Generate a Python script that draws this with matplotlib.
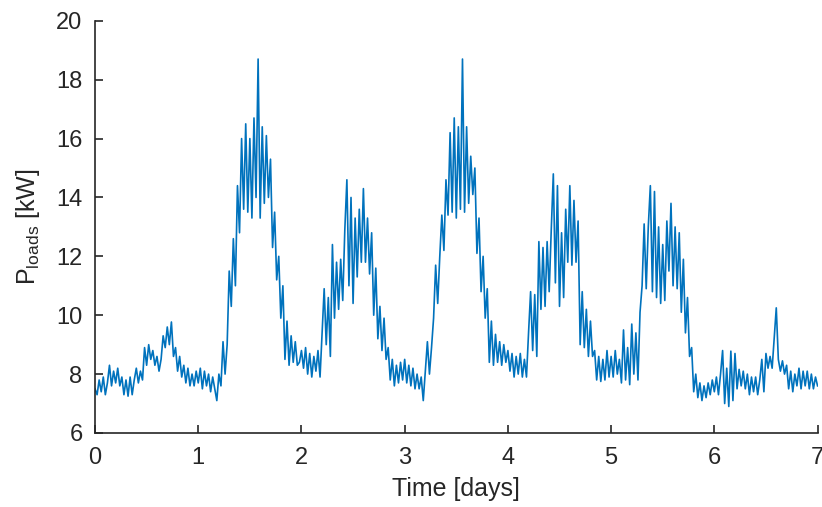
import numpy as np
import matplotlib
matplotlib.use("Agg")
import matplotlib.pyplot as plt

plt.rcParams['font.family'] = ['Liberation Sans', 'DejaVu Sans']

day0 = [7.5, 7.3, 7.8, 7.4, 7.9, 7.3, 7.7, 8.3, 7.6, 8.1,
        7.7, 8.2, 7.6, 7.9, 7.3, 7.8, 7.25, 7.9, 7.3, 7.8,
        8.2, 7.7, 8.1, 7.8, 8.9, 8.3, 9.0, 8.5, 8.8, 8.3,
        8.6, 8.1, 8.5, 9.3, 8.9, 9.6, 9.0, 9.77, 8.6, 8.9,
        8.1, 8.6, 7.9, 8.3, 7.7, 8.2, 7.6, 8.0, 7.6, 8.1]
day1 = [7.7, 8.2, 7.5, 8.1, 7.6, 8.0, 7.4, 7.9, 7.5, 7.1,
        8.0, 7.6, 9.1, 8.0, 9.0, 11.5, 10.3, 12.6, 11.0, 14.4,
        12.8, 16.0, 13.6, 16.5, 13.5, 16.0, 13.3, 16.7, 14.0, 18.7,
        13.3, 16.4, 13.8, 16.1, 14.0, 15.3, 12.3, 13.5, 11.2, 12.0,
        9.9, 11.0, 8.5, 9.8, 8.3, 9.3, 8.4, 9.1, 8.3, 8.4]
day2 = [8.8, 8.2, 8.9, 8.0, 8.7, 7.9, 8.6, 8.1, 8.8, 7.9,
        9.4, 10.9, 9.0, 10.6, 8.6, 12.4, 9.9, 11.8, 10.2, 11.9,
        10.5, 12.9, 14.6, 11.0, 14.0, 10.4, 13.3, 11.3, 13.6, 11.8,
        14.3, 11.8, 13.3, 11.4, 12.8, 10.0, 11.6, 9.2, 10.3, 8.8,
        9.9, 8.5, 8.9, 7.8, 8.5, 7.6, 8.3, 7.7, 8.4, 7.8]
day3 = [8.5, 7.7, 8.3, 7.6, 8.2, 7.5, 8.0, 7.5, 7.9, 7.1,
        8.1, 9.1, 8.0, 8.9, 9.9, 11.7, 10.4, 12.0, 13.4, 12.2,
        14.6, 13.4, 16.2, 13.5, 16.7, 13.3, 16.4, 13.6, 18.7, 13.5,
        16.4, 13.8, 15.4, 14.1, 15.0, 12.1, 13.3, 10.8, 12.0, 9.9,
        10.9, 8.4, 9.8, 8.3, 9.35, 8.4, 9.1, 8.3, 9.0, 8.4]
day4 = [8.8, 8.1, 8.7, 7.9, 8.6, 8.0, 8.7, 7.9, 8.5, 7.9,
        9.4, 10.8, 8.8, 10.7, 8.6, 12.5, 10.2, 12.3, 10.3, 12.5,
        10.8, 12.9, 14.8, 11.1, 14.4, 10.3, 12.8, 10.6, 13.6, 11.8,
        14.4, 11.7, 13.9, 11.8, 13.2, 9.0, 10.8, 8.9, 10.2, 8.6,
        9.8, 8.6, 8.8, 7.8, 8.6, 7.75, 8.5, 7.8, 8.8, 7.9]
day5 = [8.6, 7.9, 8.8, 8.0, 8.5, 7.7, 9.5, 7.8, 8.9, 7.64,
        9.7, 8.0, 9.4, 7.8, 10.1, 11.0, 13.1, 10.9, 13.0, 14.4,
        10.8, 14.2, 10.6, 13.0, 10.4, 12.4, 10.5, 13.2, 11.5, 13.8,
        11.0, 13.0, 10.9, 12.8, 10.1, 11.9, 9.4, 10.6, 8.6, 8.9,
        7.4, 8.0, 7.2, 7.7, 7.1, 7.6, 7.2, 7.7, 7.3, 7.8]
day6 = [7.4, 7.9, 7.3, 8.0, 8.8, 7.0, 8.2, 6.9, 8.78, 7.1,
        8.7, 7.5, 8.16, 7.6, 8.1, 7.5, 8.0, 7.3, 7.9, 7.4,
        7.9, 7.3, 7.8, 8.5, 7.4, 8.7, 8.2, 8.6, 8.2, 9.2,
        10.25, 8.5, 8.1, 8.45, 8.0, 8.3, 7.5, 8.1, 7.4, 8.0,
        7.6, 8.2, 7.5, 8.1, 7.6, 8.1, 7.5, 8.0, 7.5, 7.9, 7.6]

p_loads = np.array(day0 + day1 + day2 + day3 + day4 + day5 + day6)
t_days = np.arange(len(p_loads)) * 0.02

fig = plt.figure(figsize=(8.22, 5.07), dpi=100)
ax = fig.add_axes([0.1156, 0.146, 0.879, 0.813])

ax.plot(t_days, p_loads, color='#0072BD', linewidth=1.2)

ax.set_xlim(0, 7)
ax.set_ylim(6, 20)
ax.set_xticks(range(0, 8))
ax.set_yticks(range(6, 21, 2))

for s in ['top', 'right']:
    ax.spines[s].set_visible(False)
for s in ['left', 'bottom']:
    ax.spines[s].set_color('#262626')
    ax.spines[s].set_linewidth(1.2)

ax.tick_params(direction='in', length=6, width=1.2, colors='#262626',
               labelsize=17)
ax.tick_params(axis='y', pad=9)
ax.tick_params(axis='x', pad=10)
ax.set_xlabel('Time [days]', fontsize=18, color='#262626', labelpad=6)
ax.set_ylabel(r'$\mathregular{P_{loads}}$ [kW]', fontsize=18, color='#262626', labelpad=10)

fig.savefig('out.png', dpi=100)
